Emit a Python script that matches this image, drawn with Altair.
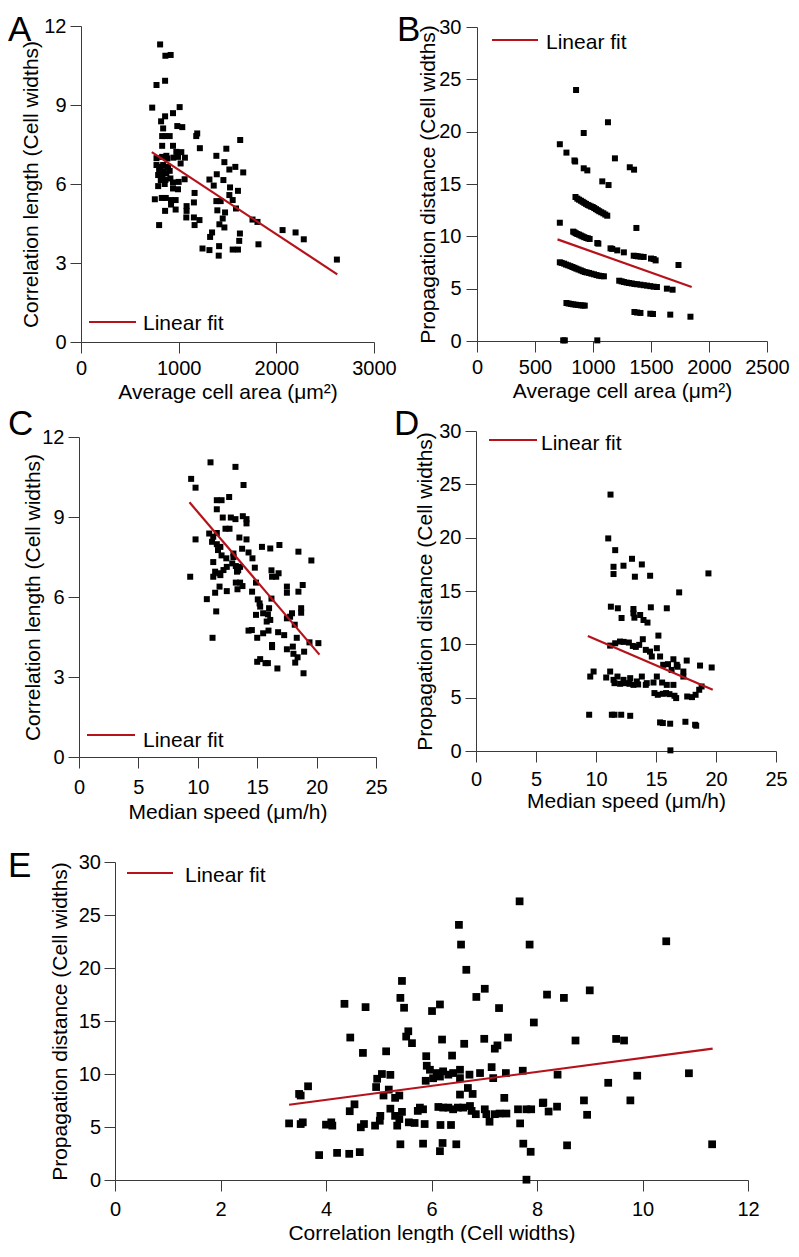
import altair as alt
import pandas as pd

FONT = "Liberation Sans"
RED = "#b5121b"
GRAY = "#3a3a3a"

# ---------------- Panel A: correlation length vs average cell area ----------------
A_pts = [
    (810, 11.3), (864, 10.87), (918, 10.9), (861, 9.92), (773, 9.76), (729, 8.9), (1010, 8.92),
    (942, 8.69), (861, 8.57), (820, 8.38), (841, 8.11), (986, 8.2), (1037, 8.16), (1190, 7.92),
    (1180, 7.82), (831, 7.82), (864, 7.82), (908, 7.82), (1217, 7.36), (942, 7.45), (831, 7.45),
    (1630, 7.67), (1488, 7.34), (1386, 7.07), (976, 7.22), (1027, 7.21), (773, 6.98), (831, 7.03),
    (874, 7.07), (884, 6.97), (946, 7.0), (993, 7.03), (1064, 7.0), (1468, 6.83), (1519, 6.55),
    (1580, 6.65), (1661, 6.44), (1390, 6.37), (1020, 6.78), (773, 6.72), (807, 6.65), (841, 6.72),
    (891, 6.65), (800, 6.5), (847, 6.49), (908, 6.5), (790, 6.34), (834, 6.34), (874, 6.4),
    (817, 6.15), (864, 6.15), (915, 6.21), (857, 6.0), (942, 6.06), (1000, 6.08), (1061, 6.18),
    (1315, 6.17), (1458, 6.15), (1359, 5.94), (1526, 5.87), (790, 5.92), (942, 5.83), (993, 5.8),
    (1607, 5.74), (1163, 5.66), (1519, 5.58), (756, 5.42), (827, 5.47), (868, 5.47), (922, 5.39),
    (969, 5.39), (1553, 5.39), (1386, 5.35), (1430, 5.35), (1156, 5.3), (922, 5.22), (1081, 5.16),
    (1081, 4.98), (969, 5.03), (861, 4.98), (1587, 5.07), (1396, 5.0), (1475, 4.92), (1078, 4.73),
    (1156, 4.73), (1213, 4.63), (1451, 4.69), (1756, 4.65), (1807, 4.56), (800, 4.44), (1163, 4.44),
    (1417, 4.47), (1468, 4.35), (2064, 4.25), (2197, 4.16), (2281, 3.9), (1342, 4.16), (1322, 3.99),
    (1627, 4.12), (1620, 3.84), (1817, 3.71), (1414, 3.64), (1244, 3.55), (1315, 3.49), (1553, 3.51),
    (1607, 3.51), (1410, 3.28), (2620, 3.13),
]
A_fit_x = [725, 2624]
A_fit_y = [7.21, 2.57]

# ---------------- Panel B: propagation distance vs average cell area ----------------
B_pts = [
    (854, 23.98), (1129, 20.9), (920, 19.87), (714, 18.8), (771, 18.0), (840, 17.25), (846, 17.15),
    (920, 16.5), (951, 16.3), (1189, 17.45), (1317, 16.6), (1354, 16.37), (1080, 15.25), (1134, 14.9),
    (849, 13.76), (865, 13.6), (880, 13.5), (896, 13.4), (911, 13.3), (925, 13.2), (940, 13.1),
    (955, 13.0), (969, 12.93), (983, 12.85), (997, 12.8), (1011, 12.7), (1026, 12.6), (1040, 12.5),
    (1054, 12.4), (1071, 12.3), (1089, 12.2), (1106, 12.08), (1123, 11.97), (714, 11.3), (1374, 10.8),
    (829, 10.45), (840, 10.38), (851, 10.3), (865, 10.22), (880, 10.16), (894, 10.08), (909, 10.0),
    (925, 9.92), (943, 9.84), (957, 9.8), (971, 9.75), (1037, 9.36), (1046, 9.3), (1151, 8.85),
    (1166, 8.8), (1209, 8.66), (1266, 8.47), (1351, 8.15), (1370, 8.12), (1386, 8.09), (1410, 8.06),
    (1437, 8.03), (1500, 7.88), (1523, 7.83), (1540, 7.7), (1737, 7.26), (714, 7.52), (730, 7.46),
    (751, 7.39), (768, 7.3), (786, 7.23), (805, 7.15), (823, 7.07), (840, 6.99), (857, 6.91),
    (875, 6.83), (894, 6.75), (911, 6.67), (929, 6.59), (946, 6.55), (966, 6.5), (987, 6.43),
    (1009, 6.37), (1030, 6.3), (1051, 6.24), (1072, 6.2), (1094, 6.18), (1226, 5.76), (1246, 5.7),
    (1266, 5.64), (1290, 5.58), (1311, 5.54), (1334, 5.5), (1357, 5.45), (1380, 5.42), (1409, 5.38),
    (1437, 5.33), (1466, 5.29), (1494, 5.24), (1523, 5.19), (1551, 5.16), (1637, 5.0), (1686, 4.9),
    (771, 3.63), (790, 3.58), (809, 3.54), (830, 3.5), (851, 3.47), (872, 3.44), (894, 3.41),
    (912, 3.39), (929, 3.38), (1357, 2.77), (1380, 2.72), (1409, 2.68), (1494, 2.61), (1517, 2.58),
    (1666, 2.52), (1840, 2.32), (743, 0.06), (757, 0.06), (1037, 0.06),
]
B_fit_x = [694, 1851]
B_fit_y = [9.71, 5.16]

# ---------------- Panel C: correlation length vs median speed ----------------
C_pts = [
    (11.07, 11.05), (13.17, 10.88), (9.44, 10.43), (13.85, 10.2), (9.81, 10.1), (12.64, 9.75),
    (11.6, 9.63), (12.0, 9.63), (11.6, 9.29), (12.1, 8.98), (12.78, 8.98), (13.17, 8.92), (13.79, 9.03),
    (14.1, 8.92), (14.1, 8.76), (10.96, 8.38), (11.3, 8.26), (12.33, 8.56), (12.67, 8.56), (9.81, 8.16),
    (11.6, 8.4), (11.2, 8.07), (11.6, 7.98), (11.9, 7.88), (13.5, 8.23), (14.1, 8.16), (15.4, 7.88),
    (16.1, 7.82), (16.87, 7.95), (18.47, 7.7), (19.56, 7.37), (13.73, 7.81), (14.27, 7.67), (14.6, 7.45),
    (11.7, 7.76), (12.0, 7.56), (12.4, 7.45), (13.0, 7.63), (11.3, 7.31), (13.0, 7.5), (12.9, 7.26),
    (13.2, 7.16), (13.4, 7.0), (14.8, 7.1), (16.2, 7.0), (16.8, 6.89), (16.6, 6.76), (16.25, 6.76),
    (9.36, 6.76), (11.46, 6.95), (11.8, 6.89), (12.16, 7.01), (12.44, 7.13), (11.3, 6.76), (11.9, 6.82),
    (13.3, 6.95), (13.56, 7.13), (13.2, 6.54), (13.56, 6.54), (13.76, 6.41), (13.34, 6.29), (14.9, 6.54),
    (17.5, 6.39), (17.5, 6.16), (18.83, 6.45), (18.47, 6.2), (11.83, 6.39), (11.46, 6.16), (12.44, 6.22),
    (14.57, 6.2), (10.76, 5.92), (15.05, 5.91), (15.2, 5.76), (15.25, 5.64), (16.2, 5.94), (16.0, 5.58),
    (15.9, 5.35), (16.1, 5.14), (15.8, 5.08), (18.7, 5.58), (18.7, 5.41), (14.9, 5.33), (15.5, 5.39),
    (17.93, 5.39), (17.5, 5.2), (17.77, 5.26), (11.55, 5.46), (14.27, 4.74), (14.55, 4.76), (18.16, 4.96),
    (11.24, 4.47), (15.0, 4.47), (15.5, 4.64), (15.95, 4.74), (16.76, 4.68), (17.27, 4.57), (18.33, 4.47),
    (19.4, 4.3), (20.15, 4.27), (16.25, 4.2), (16.25, 4.12), (17.5, 4.04), (18.0, 4.14), (18.95, 3.95),
    (18.4, 3.74), (18.05, 3.87), (18.2, 3.54), (15.0, 3.57), (15.25, 3.67), (15.7, 3.52), (15.9, 3.52),
    (16.7, 3.32), (18.9, 3.14),
]
C_fit_x = [9.3, 20.24]
C_fit_y = [9.55, 3.84]

# ---------------- Panel D: propagation distance vs median speed ----------------
D_pts = [
    (11.21, 24.04), (11.02, 19.93), (11.6, 18.83), (13.0, 18.02), (13.82, 17.49), (11.46, 17.27),
    (11.46, 16.59), (12.29, 17.37), (13.24, 16.34), (14.51, 16.43), (19.37, 16.65), (16.93, 14.87),
    (11.24, 13.53), (11.82, 13.38), (13.12, 13.31), (13.12, 12.91), (13.2, 12.5), (13.68, 12.75),
    (13.96, 12.28), (14.29, 12.04), (12.13, 12.47), (14.57, 13.47), (15.9, 13.38), (11.18, 9.88),
    (11.6, 10.1), (12.0, 10.26), (12.3, 10.23), (12.74, 10.17), (13.07, 9.85), (13.32, 9.76),
    (13.6, 9.95), (13.9, 10.48), (14.15, 9.48), (14.5, 9.32), (14.65, 8.86), (15.07, 9.64),
    (15.2, 10.82), (15.34, 8.86), (15.6, 8.08), (16.0, 8.14), (16.45, 8.6), (16.73, 8.08), (16.3, 7.6),
    (17.56, 8.48), (18.67, 8.01), (19.64, 7.83), (17.28, 7.45), (17.28, 6.98), (16.8, 7.9), (16.45, 6.2),
    (9.52, 6.98), (9.8, 7.45), (10.85, 6.89), (11.18, 7.45), (11.46, 6.67), (11.79, 6.98), (12.29, 6.67),
    (12.85, 6.83), (13.4, 6.52), (13.82, 6.98), (14.23, 6.36), (14.79, 6.42), (15.07, 6.98), (15.51, 6.42),
    (15.9, 6.2), (11.54, 6.36), (12.01, 6.3), (12.43, 6.36), (12.79, 6.3), (13.12, 6.2), (13.51, 6.24),
    (14.15, 6.2), (14.87, 5.43), (15.15, 5.27), (15.57, 5.36), (15.84, 5.43), (16.12, 5.33), (16.54, 5.18),
    (16.68, 4.96), (17.6, 5.11), (18.0, 5.05), (18.3, 5.27), (18.6, 5.74), (18.8, 6.05), (9.43, 3.4),
    (11.32, 3.4), (11.54, 3.4), (12.1, 3.4), (12.85, 3.3), (15.34, 2.68), (15.57, 2.62), (16.18, 2.56),
    (17.45, 2.74), (18.26, 2.46), (18.35, 2.37), (16.2, 0.06),
]
D_fit_x = [9.32, 19.73]
D_fit_y = [10.79, 5.74]

# ---------------- Panel E: propagation distance vs correlation length ----------------
E_pts = [
    (3.30, 5.34), (3.49, 8.12), (3.52, 7.97), (3.66, 8.84), (3.52, 5.28), (3.56, 5.44), (3.87, 2.35),
    (4.0, 5.22), (4.1, 5.44), (4.12, 5.13), (4.21, 2.56), (4.35, 16.62), (4.46, 13.44), (4.45, 6.49),
    (4.54, 7.14), (4.44, 2.47), (4.64, 2.63), (4.66, 4.97), (4.72, 5.28), (4.75, 16.31), (4.7, 11.99),
    (4.93, 5.13), (5.02, 5.59), (5.03, 6.05), (4.95, 8.77), (4.97, 9.55), (5.06, 10.0), (5.22, 9.92),
    (5.14, 12.14), (5.09, 7.97), (5.19, 8.53), (5.31, 7.75), (5.39, 7.97), (5.22, 6.73), (5.31, 6.05),
    (5.35, 5.13), (5.39, 5.75), (5.41, 3.37), (5.44, 18.78), (5.41, 17.18), (5.48, 16.25), (5.56, 14.03),
    (5.52, 13.53), (5.63, 12.91), (5.44, 6.43), (5.57, 5.44), (5.68, 5.38), (5.74, 6.52), (5.84, 3.43),
    (5.87, 5.28), (5.78, 6.83), (5.84, 6.67), (5.9, 11.68), (5.91, 10.78), (5.89, 9.36), (6.03, 9.6),
    (6.16, 9.76), (5.97, 10.4), (6.1, 10.09), (6.22, 10.25), (6.32, 9.94), (6.41, 10.09), (6.54, 10.4),
    (6.72, 9.94), (6.92, 10.09), (7.14, 10.65), (7.41, 10.09), (7.73, 10.31), (8.39, 9.94), (9.35, 9.17),
    (9.9, 9.84), (6.01, 15.94), (6.16, 16.56), (6.2, 13.25), (6.16, 2.72), (6.21, 3.49), (6.17, 5.19),
    (6.37, 5.19), (6.47, 3.37), (6.13, 6.89), (6.22, 6.83), (6.32, 6.83), (6.41, 6.67), (6.5, 6.83),
    (6.6, 6.83), (6.73, 6.98), (6.76, 6.52), (6.84, 6.21), (7.01, 6.67), (7.04, 6.21), (7.1, 5.5),
    (7.2, 6.21), (7.29, 6.27), (7.42, 6.27), (7.64, 6.67), (7.8, 6.67), (7.89, 6.67), (6.39, 11.74),
    (6.52, 24.07), (6.56, 22.21), (6.66, 19.83), (6.62, 12.85), (6.54, 9.61), (6.54, 8.06), (6.69, 8.68),
    (6.78, 8.12), (6.85, 17.27), (7.01, 18.04), (7.0, 13.32), (7.2, 12.39), (7.25, 12.7), (7.17, 9.61),
    (7.28, 16.22), (7.38, 7.75), (7.45, 13.44), (7.67, 26.29), (7.86, 22.21), (7.94, 14.86), (7.68, 5.34),
    (7.74, 3.43), (7.88, 2.66), (7.8, 0.03), (8.11, 7.26), (8.12, 7.31), (8.22, 6.46), (8.38, 6.92),
    (8.19, 17.49), (8.51, 17.18), (8.57, 3.27), (8.73, 13.16), (8.89, 7.51), (8.95, 6.15), (9.0, 17.89),
    (9.5, 13.31), (9.65, 13.16), (9.77, 7.51), (10.45, 22.52), (10.88, 10.07), (11.32, 3.37),
]
E_fit_x = [3.3, 11.33]
E_fit_y = [7.1, 12.39]


def panel(pts, fit_x, fit_y, xmax, xstep, ymax, ystep, xtitle, ytitle, w, h, letter,
          letter_x, letter_y, leg, pt_size, xpad, ypad, x0=0, y0=0):
    """x0: left inset of the plot inside the view; y0: top inset of the plot."""
    df = pd.DataFrame(pts, columns=["x", "y"])
    fit = pd.DataFrame({"x": fit_x, "y": fit_y})
    one = pd.DataFrame({"k": [0]})
    xvals = [i * xstep for i in range(int(round(xmax / xstep)) + 1)]
    yvals = [i * ystep for i in range(int(round(ymax / ystep)) + 1)]
    xs = alt.Scale(domain=[0, xmax], nice=False, zero=False, range=[x0, w])
    ys = alt.Scale(domain=[0, ymax], nice=False, zero=False, range=[h, y0])
    xax = alt.Axis(values=xvals, format="d", title=xtitle, labelPadding=xpad[0],
                   titlePadding=xpad[1], labelOverlap=False, labelFlush=False)
    yax = alt.Axis(values=yvals, format="d", title=ytitle, labelPadding=ypad[0],
                   titlePadding=ypad[1], labelOverlap=False, labelFlush=False,
                   offset=-x0)
    points = alt.Chart(df).mark_square(size=pt_size, color="black", opacity=1).encode(
        x=alt.X("x:Q", scale=xs, axis=xax),
        y=alt.Y("y:Q", scale=ys, axis=yax),
    )
    line = alt.Chart(fit).mark_line(color=RED, strokeWidth=2.2).encode(
        x=alt.X("x:Q", scale=xs), y=alt.Y("y:Q", scale=ys)
    )
    lx1, lx2, ly, tx, ty = leg
    rule = alt.Chart(one).mark_rule(color=RED, strokeWidth=2.2).encode(
        x=alt.value(lx1), x2=alt.value(lx2), y=alt.value(ly)
    )
    ltext = alt.Chart(one).mark_text(
        text="Linear fit", font=FONT, fontSize=21, align="left", baseline="middle", color="black"
    ).encode(x=alt.value(tx), y=alt.value(ty))
    ltr = alt.Chart(one).mark_text(
        text=letter, font=FONT, fontSize=35, align="left", baseline="alphabetic", color="black"
    ).encode(x=alt.value(letter_x), y=alt.value(letter_y))
    return alt.layer(points, line, rule, ltext, ltr).properties(width=w, height=h)


# all left-column views share one origin (abs x = 79); insets place each plot
pA = panel(A_pts, A_fit_x, A_fit_y, 3000, 1000, 12, 3,
           "Average cell area (μm²)", "Correlation length (Cell widths)",
           295, 316, "A", -71, 14.5, (10, 57, 296, 64, 297.7), 36, (5.5, 3), (4, 2), x0=2)
pB = panel(B_pts, B_fit_x, B_fit_y, 2500, 500, 30, 5,
           "Average cell area (μm²)", "Propagation distance (Cell widths)",
           290, 315, "B", -80, 14.5, (15, 61, 14, 69, 17.2), 36, (5.5, 3), (5, 0), y0=1)
pC = panel(C_pts, C_fit_x, C_fit_y, 25, 5, 12, 3,
           "Median speed (μm/h)", "Correlation length (Cell widths)",
           297, 326, "C", -71, 4, (8, 56, 304, 64, 309.7), 36, (9, 4), (4, -2), y0=6)
pD = panel(D_pts, D_fit_x, D_fit_y, 25, 5, 30, 5,
           "Median speed (μm/h)", "Propagation distance (Cell widths)",
           300, 320, "D", -82, 4, (13, 61, 9, 65, 12.7), 36, (7.5, 1), (4, 3))
pE = panel(E_pts, E_fit_x, E_fit_y, 12, 2, 30, 5,
           "Correlation length (Cell widths)", "Propagation distance (Cell widths)",
           669, 318, "E", -71, 15, (48, 94, 11, 106, 14.2), 60, (8, 3), (3.5, 7.5), x0=36)

row1 = alt.concat(pA, pB, columns=2, spacing=0, align="none")
row2 = alt.concat(pC, pD, columns=2, spacing=6, align="none")
top = alt.concat(row1, row2, columns=1, spacing=4, align="none")
chart = alt.concat(top, pE, columns=1, spacing=27, align="none").properties(
    padding={"left": 0, "top": 4, "right": 0, "bottom": 0}
).configure_view(strokeWidth=0).configure_axis(
    grid=False,
    domainColor=GRAY,
    tickColor=GRAY,
    domainWidth=1,
    tickWidth=1,
    tickSize=11,
    labelColor="black",
    titleColor="black",
    labelFont=FONT,
    titleFont=FONT,
    labelFontSize=20,
    titleFontSize=21,
    titleFontWeight="normal",
)

chart.save("out.html", embed_options={"renderer": "svg", "actions": False})
